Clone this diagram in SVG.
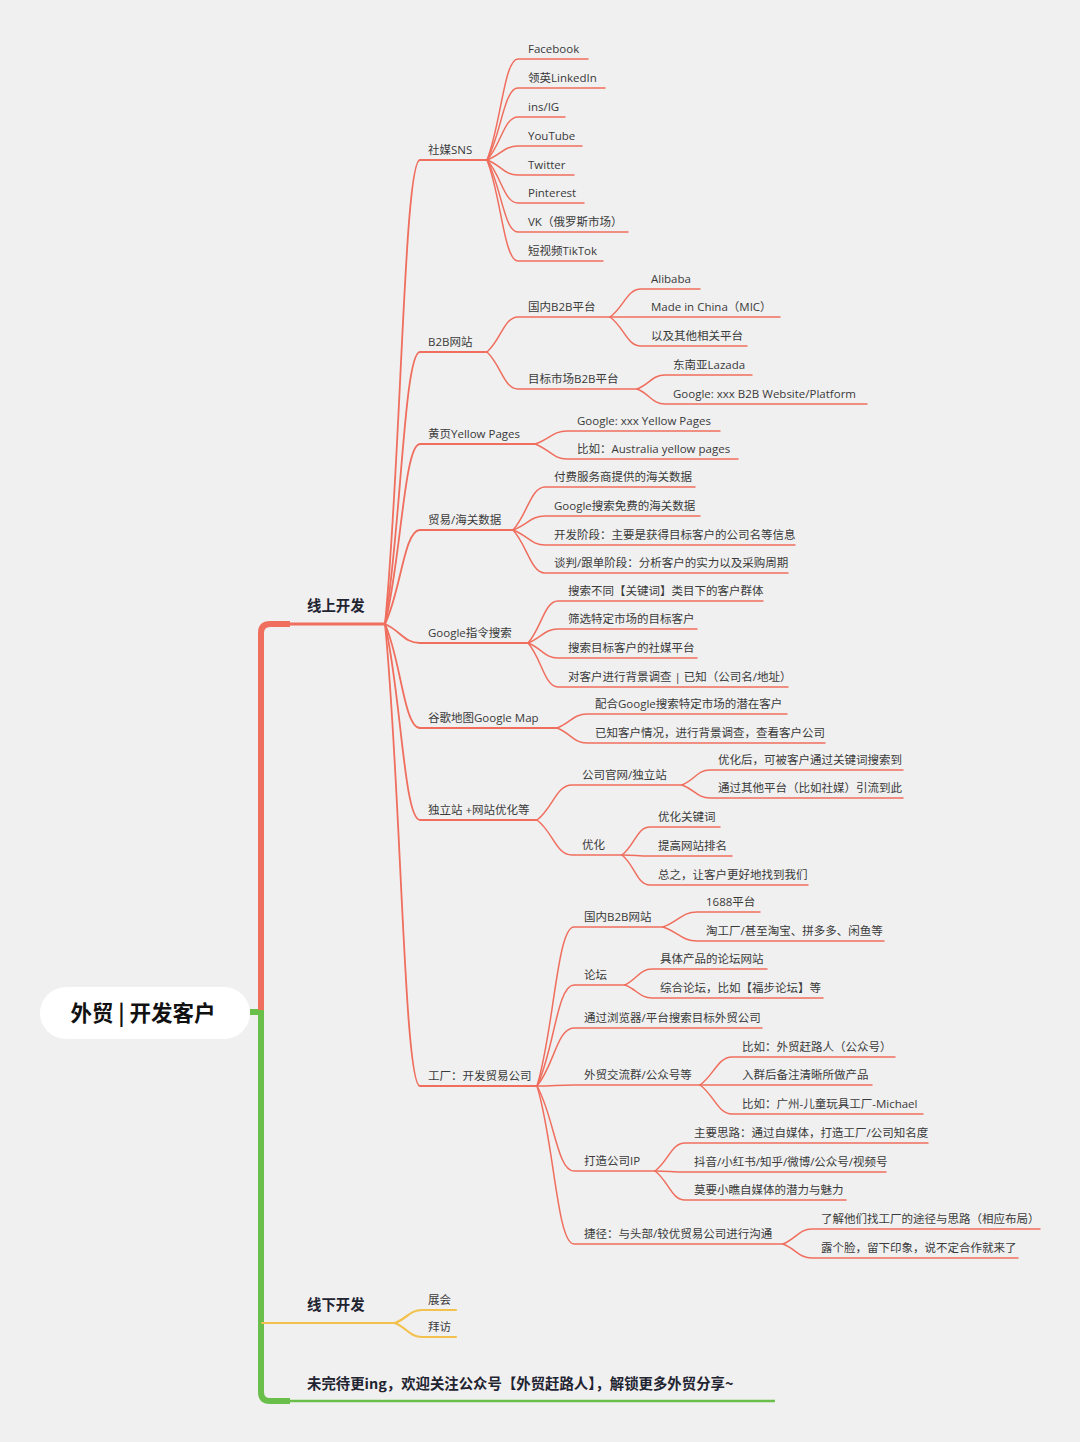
<svg xmlns="http://www.w3.org/2000/svg" width="1080" height="1442" viewBox="0 0 1080 1442">
<style>
.t{font-family:"Open Sans","Noto Sans CJK SC",sans-serif;font-size:11.5px;fill:#3a3a3a}
.b{font-family:"Noto Sans CJK SC","Noto Sans",sans-serif;font-size:14.4px;font-weight:bold;fill:#1f2430}
.root{font-family:"Noto Sans CJK SC","Noto Sans",sans-serif;font-size:21.5px;font-weight:bold;fill:#111111}
.c2{fill:none;stroke:#ef6e5e;stroke-width:1.8;stroke-linecap:round}
.c3{fill:none;stroke:#ef6e5e;stroke-width:1.5;stroke-linecap:round}
.cy{fill:none;stroke:#f2c14e;stroke-width:2.2;stroke-linecap:round}
</style>
<rect x="0" y="0" width="1080" height="1442" fill="#f0f0f0"/>
<g id="connectors">
  <!-- trunk -->
  <path d="M250,1012 H261" fill="none" stroke="#6abf4b" stroke-width="6"/>
  <path d="M261,1012 V633 Q261,624 270,624 H290" fill="none" stroke="#ef6e5e" stroke-width="6"/>
  <path d="M280,624 H385" fill="none" stroke="#ef6e5e" stroke-width="3"/>
  <path d="M261,1010 V1392 Q261,1401 270,1401 H290" fill="none" stroke="#6abf4b" stroke-width="6"/>
  <path d="M280,1401 H775" fill="none" stroke="#6abf4b" stroke-width="2.5"/>
  <!-- offline -->
  <path class="cy" d="M262,1323 H395"/>
  <path class="cy" d="M395,1323 C407,1318.5 410,1310 422,1310 H456"/>
  <path class="cy" d="M395,1323 C407,1328 410,1337 422,1337 H456"/>
  <!-- level 2 -->
  <path class="c2" d="M385,624 C401,462 404,160 420,160 H487"/>
  <path class="c2" d="M385,624 C401,529 404,352 420,352 H487"/>
  <path class="c2" d="M385,624 C401,561 404,444 420,444 H535"/>
  <path class="c2" d="M385,624 C401,591 404,530 420,530 H513"/>
  <path class="c2" d="M385,624 C401,631 404,643 420,643 H528"/>
  <path class="c2" d="M385,624 C401,660 404,728 420,728 H557"/>
  <path class="c2" d="M385,624 C401,693 404,820 420,820 H537"/>
  <path class="c2" d="M385,624 C401,786 404,1086 420,1086 H537"/>
  <!-- SNS -->
  <path class="c3" d="M487,160 C501,125 504,59 518,59 H588"/>
  <path class="c3" d="M487,160 C501,135 504,88 518,88 H605"/>
  <path class="c3" d="M487,160 C501,145 504,117 518,117 H565"/>
  <path class="c3" d="M487,160 C501,155 504,146 518,146 H582"/>
  <path class="c3" d="M487,160 C501,165 504,175 518,175 H574"/>
  <path class="c3" d="M487,160 C501,175 504,203 518,203 H584"/>
  <path class="c3" d="M487,160 C501,185 504,232 518,232 H628"/>
  <path class="c3" d="M487,160 C501,195 504,261 518,261 H603"/>
  <!-- B2B -->
  <path class="c3" d="M487,352 C501,340 504,317 518,317 H610"/>
  <path class="c3" d="M487,352 C501,365 504,389 518,389 H637"/>
  <path class="c3" d="M610,317 C624,307 627,289 641,289 H700"/>
  <path class="c3" d="M610,317 H780"/>
  <path class="c3" d="M610,317 C624,327 627,346 641,346 H747"/>
  <path class="c3" d="M637,389 C650,384 652,375 665,375 H752"/>
  <path class="c3" d="M637,389 C650,394 652,404 665,404 H867"/>
  <!-- Yellow pages -->
  <path class="c3" d="M535,444 C549,439.5 553,431 567,431 H720"/>
  <path class="c3" d="M535,444 C549,449 553,459 567,459 H738"/>
  <!-- trade -->
  <path class="c3" d="M513,530 C527,515 531,487 545,487 H695"/>
  <path class="c3" d="M513,530 C527,525 531,516 545,516 H700"/>
  <path class="c3" d="M513,530 C527,535 531,545 545,545 H795"/>
  <path class="c3" d="M513,530 C527,545 531,573 545,573 H788"/>
  <!-- google -->
  <path class="c3" d="M528,643 C541.5,628 544.5,601 558,601 H763"/>
  <path class="c3" d="M528,643 C541.5,638 544.5,629 558,629 H697"/>
  <path class="c3" d="M528,643 C541.5,648 544.5,658 558,658 H697"/>
  <path class="c3" d="M528,643 C541.5,658 544.5,687 558,687 H788"/>
  <!-- map -->
  <path class="c3" d="M557,728 C570.5,723 573.5,714 587,714 H787"/>
  <path class="c3" d="M557,728 C570.5,733 573.5,743 587,743 H825"/>
  <!-- site -->
  <path class="c3" d="M537,820 C553,808 556,785 572,785 H682"/>
  <path class="c3" d="M537,820 C553,832 556,855 572,855 H622"/>
  <path class="c3" d="M682,785 C695,780 697,770 710,770 H903"/>
  <path class="c3" d="M682,785 C695,789.5 697,798 710,798 H903"/>
  <path class="c3" d="M622,855 C635,845 637,827 650,827 H720"/>
  <path class="c3" d="M622,855 C635,855 637,856 650,856 H732"/>
  <path class="c3" d="M622,855 C635,865.5 637,885 650,885 H808"/>
  <!-- factory -->
  <path class="c3" d="M537,1086 C554,1030 557,927 574,927 H663"/>
  <path class="c3" d="M537,1086 C554,1051 557,985 574,985 H625"/>
  <path class="c3" d="M537,1086 C554,1066 557,1028 574,1028 H762"/>
  <path class="c3" d="M537,1086 C554,1086 557,1085 574,1085 H700"/>
  <path class="c3" d="M537,1086 C554,1116 557,1171 574,1171 H655"/>
  <path class="c3" d="M537,1086 C554,1141 557,1244 574,1244 H783"/>
  <path class="c3" d="M663,927 C678,922 682,912 697,912 H760"/>
  <path class="c3" d="M663,927 C678,932 682,941 697,941 H884"/>
  <path class="c3" d="M625,985 C637,979 640,969 652,969 H767"/>
  <path class="c3" d="M625,985 C637,989.5 640,998 652,998 H823"/>
  <path class="c3" d="M700,1085 C714,1075 718,1057 732,1057 H895"/>
  <path class="c3" d="M700,1085 H872"/>
  <path class="c3" d="M700,1085 C714,1095 718,1114 732,1114 H923"/>
  <path class="c3" d="M655,1171 C668.5,1161 671.5,1143 685,1143 H928"/>
  <path class="c3" d="M655,1171 C668.5,1171 671.5,1172 685,1172 H886"/>
  <path class="c3" d="M655,1171 C668.5,1181 671.5,1200 685,1200 H846"/>
  <path class="c3" d="M783,1244 C796,1239 799,1229 812,1229 H1040"/>
  <path class="c3" d="M783,1244 C796,1249 799,1258 812,1258 H1018"/>
</g>

<g id="root">
  <rect x="40" y="987" width="210" height="52" rx="26" fill="#ffffff"/>
  <text class="root" x="143" y="1020.5" text-anchor="middle">外贸 | 开发客户</text>
</g>
<g id="online"><text class="b" x="307" y="610.5">线上开发</text></g>
<g id="offline"><text class="b" x="307" y="1309.5">线下开发</text></g>
<g id="footer"><text class="b" x="307" y="1388.5">未完待更ing，欢迎关注公众号【外贸赶路人】，解锁更多外贸分享~</text></g>
<g id="offline-children">
  <g id="n-zhanhui"><text class="t" x="428" y="1304">展会</text></g>
  <g id="n-baifang"><text class="t" x="428" y="1331">拜访</text></g>
</g>

<g id="n-sns"><text class="t" x="428" y="154">社媒SNS</text></g>
<g id="n-sns-children">
  <g id="n-facebook"><text class="t" x="528" y="53">Facebook</text></g>
  <g id="n-linkedin"><text class="t" x="528" y="82">领英LinkedIn</text></g>
  <g id="n-ins"><text class="t" x="528" y="111">ins/IG</text></g>
  <g id="n-youtube"><text class="t" x="528" y="140">YouTube</text></g>
  <g id="n-twitter"><text class="t" x="528" y="169">Twitter</text></g>
  <g id="n-pinterest"><text class="t" x="528" y="197">Pinterest</text></g>
  <g id="n-vk"><text class="t" x="528" y="226">VK（俄罗斯市场）</text></g>
  <g id="n-tiktok"><text class="t" x="528" y="255">短视频TikTok</text></g>
</g>

<g id="n-b2b"><text class="t" x="428" y="346">B2B网站</text></g>
<g id="n-b2b-cn"><text class="t" x="528" y="311">国内B2B平台</text></g>
<g id="n-alibaba"><text class="t" x="651" y="283">Alibaba</text></g>
<g id="n-mic"><text class="t" x="651" y="311">Made in China（MIC）</text></g>
<g id="n-other"><text class="t" x="651" y="340">以及其他相关平台</text></g>
<g id="n-b2b-target"><text class="t" x="528" y="383">目标市场B2B平台</text></g>
<g id="n-lazada"><text class="t" x="673" y="369">东南亚Lazada</text></g>
<g id="n-google-b2b"><text class="t" x="673" y="398">Google: xxx B2B Website/Platform</text></g>

<g id="n-yp"><text class="t" x="428" y="438">黄页Yellow Pages</text></g>
<g id="n-yp1"><text class="t" x="577" y="425">Google: xxx Yellow Pages</text></g>
<g id="n-yp2"><text class="t" x="577" y="453">比如：Australia yellow pages</text></g>

<g id="n-trade"><text class="t" x="428" y="524">贸易/海关数据</text></g>
<g id="n-trade1"><text class="t" x="554" y="481">付费服务商提供的海关数据</text></g>
<g id="n-trade2"><text class="t" x="554" y="510">Google搜索免费的海关数据</text></g>
<g id="n-trade3"><text class="t" x="554" y="539">开发阶段：主要是获得目标客户的公司名等信息</text></g>
<g id="n-trade4"><text class="t" x="554" y="567">谈判/跟单阶段：分析客户的实力以及采购周期</text></g>

<g id="n-google"><text class="t" x="428" y="637">Google指令搜索</text></g>
<g id="n-g1"><text class="t" x="568" y="595">搜索不同【关键词】类目下的客户群体</text></g>
<g id="n-g2"><text class="t" x="568" y="623">筛选特定市场的目标客户</text></g>
<g id="n-g3"><text class="t" x="568" y="652">搜索目标客户的社媒平台</text></g>
<g id="n-g4"><text class="t" x="568" y="681">对客户进行背景调查 | 已知（公司名/地址）</text></g>

<g id="n-map"><text class="t" x="428" y="722">谷歌地图Google Map</text></g>
<g id="n-map1"><text class="t" x="595" y="708">配合Google搜索特定市场的潜在客户</text></g>
<g id="n-map2"><text class="t" x="595" y="737">已知客户情况，进行背景调查，查看客户公司</text></g>

<g id="n-site"><text class="t" x="428" y="814">独立站 +网站优化等</text></g>
<g id="n-site1"><text class="t" x="582" y="779">公司官网/独立站</text></g>
<g id="n-site1a"><text class="t" x="718" y="764">优化后，可被客户通过关键词搜索到</text></g>
<g id="n-site1b"><text class="t" x="718" y="792">通过其他平台（比如社媒）引流到此</text></g>
<g id="n-site2"><text class="t" x="582" y="849">优化</text></g>
<g id="n-site2a"><text class="t" x="658" y="821">优化关键词</text></g>
<g id="n-site2b"><text class="t" x="658" y="850">提高网站排名</text></g>
<g id="n-site2c"><text class="t" x="658" y="879">总之，让客户更好地找到我们</text></g>

<g id="n-factory"><text class="t" x="428" y="1080">工厂：开发贸易公司</text></g>
<g id="n-f1"><text class="t" x="584" y="921">国内B2B网站</text></g>
<g id="n-f1a"><text class="t" x="706" y="906">1688平台</text></g>
<g id="n-f1b"><text class="t" x="706" y="935">淘工厂/甚至淘宝、拼多多、闲鱼等</text></g>
<g id="n-f2"><text class="t" x="584" y="979">论坛</text></g>
<g id="n-f2a"><text class="t" x="660" y="963">具体产品的论坛网站</text></g>
<g id="n-f2b"><text class="t" x="660" y="992">综合论坛，比如【福步论坛】等</text></g>
<g id="n-f3"><text class="t" x="584" y="1022">通过浏览器/平台搜索目标外贸公司</text></g>
<g id="n-f4"><text class="t" x="584" y="1079">外贸交流群/公众号等</text></g>
<g id="n-f4a"><text class="t" x="742" y="1051">比如：外贸赶路人（公众号）</text></g>
<g id="n-f4b"><text class="t" x="742" y="1079">入群后备注清晰所做产品</text></g>
<g id="n-f4c"><text class="t" x="742" y="1108">比如：广州-儿童玩具工厂-Michael</text></g>
<g id="n-f5"><text class="t" x="584" y="1165">打造公司IP</text></g>
<g id="n-f5a"><text class="t" x="694" y="1137">主要思路：通过自媒体，打造工厂/公司知名度</text></g>
<g id="n-f5b"><text class="t" x="694" y="1166">抖音/小红书/知乎/微博/公众号/视频号</text></g>
<g id="n-f5c"><text class="t" x="694" y="1194">莫要小瞧自媒体的潜力与魅力</text></g>
<g id="n-f6"><text class="t" x="584" y="1238">捷径：与头部/较优贸易公司进行沟通</text></g>
<g id="n-f6a"><text class="t" x="821" y="1223">了解他们找工厂的途径与思路（相应布局）</text></g>
<g id="n-f6b"><text class="t" x="821" y="1252">露个脸，留下印象，说不定合作就来了</text></g>
</svg>
